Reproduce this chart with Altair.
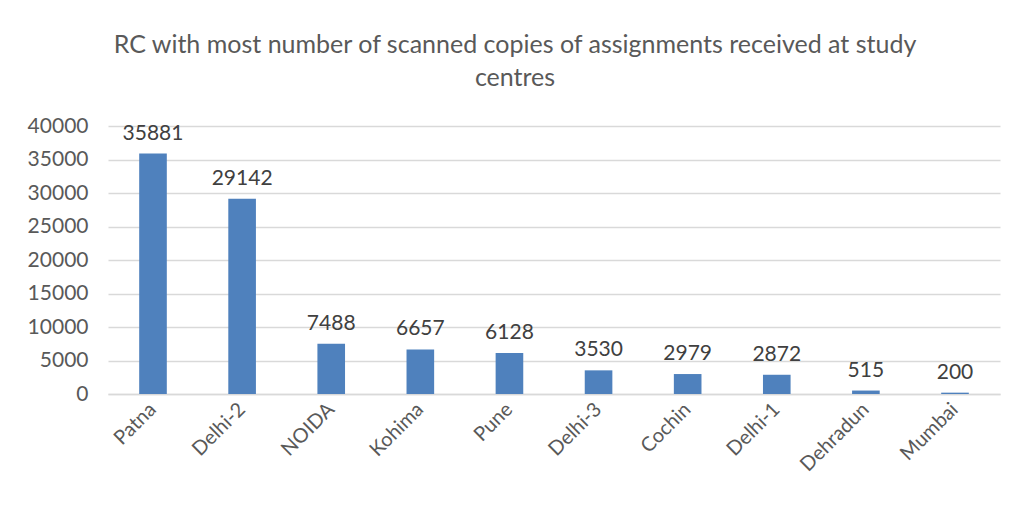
import altair as alt
import pandas as pd

centres = ["Patna", "Delhi-2", "NOIDA", "Kohima", "Pune", "Delhi-3", "Cochin", "Delhi-1", "Dehradun", "Mumbai"]
copies = [35881, 29142, 7488, 6657, 6128, 3530, 2979, 2872, 515, 200]
y_ticks = [0, 5000, 10000, 15000, 20000, 25000, 30000, 35000, 40000]

df = pd.DataFrame({"centre": centres, "copies": copies})

FONT = "Lato"

x = alt.X("centre:N", sort=centres, title=None,
          scale=alt.Scale(paddingInner=0.69, paddingOuter=0.35),
          axis=alt.Axis(labelAngle=-45, labelAlign="right", labelBaseline="middle",
                        labelFontSize=20, labelColor="#595959", labelFont=FONT,
                        labelPadding=12, ticks=False, domain=True, domainColor="#d9d9d9",
                        domainWidth=1.5, labelOverlap=False))
y = alt.Y("copies:Q", title=None,
          scale=alt.Scale(domain=[0, 40000], nice=False),
          axis=alt.Axis(values=y_ticks, tickCount=9, format="d", labelOverlap=False,
                        labelFontSize=21, labelColor="#595959", labelFont=FONT,
                        ticks=False, domain=False, gridColor="#d9d9d9", gridWidth=1.5,
                        labelPadding=20))

bars = alt.Chart(df).mark_bar(color="#4f81bd").encode(x=x, y=y)
labels = alt.Chart(df).mark_text(dy=-20, fontSize=21, color="#404040", font=FONT).encode(
    x=x, y=y, text="copies:Q")

chart = alt.layer(bars, labels).properties(
    width=892, height=268,
    title=alt.TitleParams(
        text=["RC with most number of scanned copies of assignments received at study", "centres"],
        fontSize=25, font=FONT, fontWeight="normal", color="#595959",
        anchor="middle", dx=-39, lineHeight=33, offset=24),
    autosize=alt.AutoSizeParams(type="none"),
    padding={"left": 100, "top": 118, "right": 6, "bottom": 110},
).configure_view(stroke=None)

chart.save("out.html", embed_options={"renderer": "svg", "actions": False})
